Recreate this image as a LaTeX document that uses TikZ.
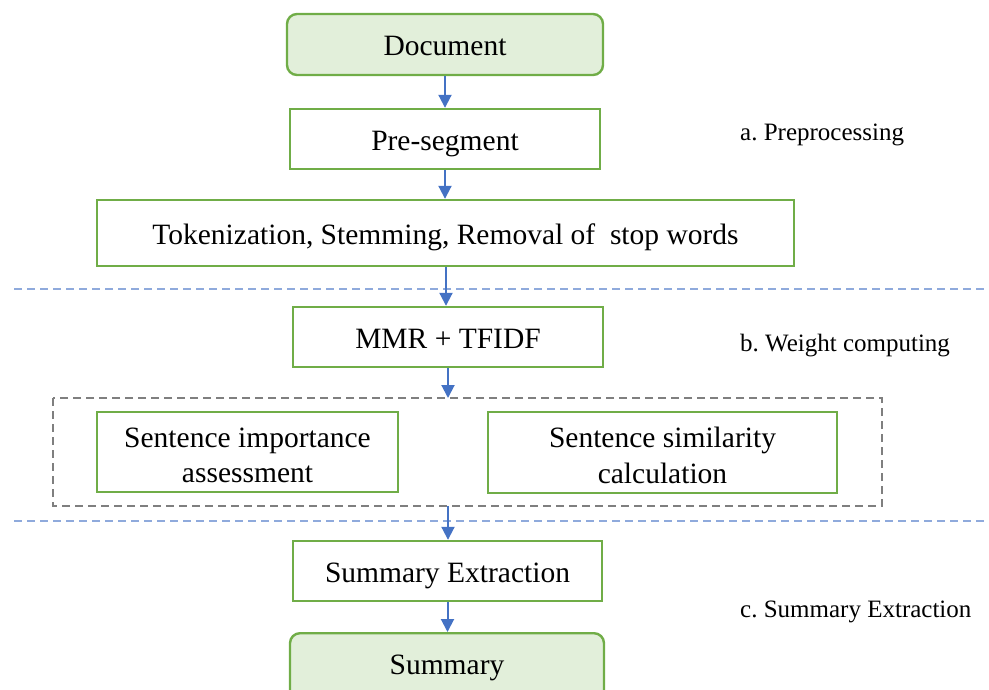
\documentclass[tikz,border=0pt]{standalone}
\usepackage{fontspec}
\setmainfont{Liberation Serif}
\usetikzlibrary{arrows.meta}
\definecolor{boxgreen}{HTML}{70AD47}
\definecolor{fillgreen}{HTML}{E2EFDA}
\definecolor{arrblue}{HTML}{4472C4}
\definecolor{lineblue}{HTML}{8FAADC}
\definecolor{grayline}{HTML}{7F7F7F}
\tikzset{
  stepbox/.style={draw=boxgreen, line width=2.4pt, fill=white, inner sep=0pt, align=center, font=\fontsize{29.5}{35}\selectfont},
  oneline/.style={text height=22pt, text depth=0pt},
  termbox/.style={stepbox, fill=fillgreen, rounded corners=10pt},
  flow/.style={draw=arrblue, line width=2pt, -{Triangle[length=13pt,width=13pt]}},
  sepline/.style={draw=lineblue, line width=1.6pt, dash pattern=on 8pt off 5pt},
  grpbox/.style={draw=grayline, line width=2pt, dash pattern=on 8pt off 5pt},
  phase/.style={anchor=west, font=\fontsize{25}{30}\selectfont, inner sep=0pt}
}
\frenchspacing
\begin{document}
\begin{tikzpicture}[x=1pt,y=-1pt]
\useasboundingbox (0,0) rectangle (989,689);
\node[termbox, oneline, minimum width=316pt, minimum height=61pt] (doc) at (445,44.5) {Document};
\node[stepbox, oneline, minimum width=310pt, minimum height=60pt] (pre) at (445,139) {Pre-segment};
\node[stepbox, oneline, minimum width=697pt, minimum height=66pt] (tok) at (445.5,233) {Tokenization, Stemming, Removal of\ \ stop words};
\node[stepbox, oneline, minimum width=310pt, minimum height=60pt] (mmr) at (448,337) {MMR + TFIDF};
\draw[grpbox] (53,398) rectangle (882,506);
\coordinate (grptop) at (448,398);
\coordinate (grpbot) at (448,506);
\node[stepbox, minimum width=301pt, minimum height=80pt] (sia) at (247.5,452) {\rule{0pt}{26pt}Sentence importance\\[0.5pt]assessment};
\node[stepbox, minimum width=349pt, minimum height=81pt] (ssc) at (662.5,452.5) {\rule{0pt}{26pt}Sentence similarity\\[0.5pt]calculation};
\node[stepbox, oneline, minimum width=309pt, minimum height=60pt] (sum) at (447.5,571) {Summary Extraction};
\node[termbox, minimum width=314pt, minimum height=80pt, anchor=north] (out) at (447,632) {};
\node[font=\fontsize{29.5}{35}\selectfont, inner sep=0pt] (outtxt) at (447,668) {Summary};
\coordinate (l1a) at (14,289); \coordinate (l1b) at (989,289);
\coordinate (l2a) at (14,521); \coordinate (l2b) at (989,521);
\draw[sepline] (l1a) -- (l1b);
\draw[sepline] (l2a) -- (l2b);
\draw[flow] (doc.south) -- (pre.north);
\draw[flow] (pre.south) -- (pre.south |- tok.north);
\draw[flow] ([xshift=-2pt]tok.south -| mmr.north) -- ([xshift=-2pt]mmr.north);
\draw[flow] (mmr.south) -- (grptop);
\draw[flow] (grpbot) -- (grpbot |- sum.north);
\draw[flow] (sum.south) -- (sum.south |- out.north);
\node[phase] (pa) at (740,135) {a. Preprocessing};
\node[phase] (pb) at (740,346) {b. Weight computing};
\node[phase] (pc) at (740,612) {c. Summary Extraction};
\end{tikzpicture}
\end{document}
